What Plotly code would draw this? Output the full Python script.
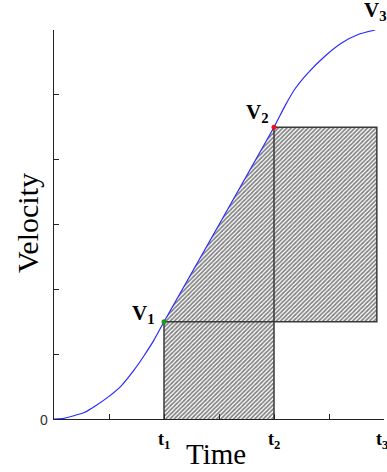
import plotly.graph_objects as go

# Curve samples (time, velocity)
curve_t = [0.0, 0.18, 0.36, 0.55, 0.73, 0.97, 1.21, 1.45, 1.64, 1.82, 2.0,
           4.0, 4.2, 4.38, 4.62, 4.93, 5.23, 5.53, 5.84]
curve_v = [0.0, 0.01, 0.05, 0.10, 0.19, 0.33, 0.50, 0.75, 0.98, 1.22, 1.5,
           4.5, 4.83, 5.09, 5.34, 5.6, 5.80, 5.93, 6.0]

t_ticks = [1, 2, 3, 4, 5, 6]
v_ticks = [0, 1, 2, 3, 4, 5]
t_labels = ["t<sub>1</sub>", "t<sub>2</sub>", "t<sub>3</sub>"]
v_labels = ["V<sub>1</sub>", "V<sub>2</sub>", "V<sub>3</sub>"]

t1, t2, t_end = 2.0, 4.0, 5.87
v1, v2 = 1.5, 4.5

fig = go.Figure()

hatch = dict(shape="/", size=3, solidity=0.55, fgcolor="#000000", bgcolor="white")

fig.add_trace(go.Scatter(x=[t1, t2, t2, t1, t1], y=[0, 0, v2, v1, 0], mode="lines",
                         fill="toself", fillcolor="white", fillpattern=hatch,
                         line=dict(width=0), hoverinfo="skip", showlegend=False))
fig.add_trace(go.Scatter(x=[t2, t_end, t_end, t2, t2], y=[v1, v1, v2, v2, v1], mode="lines",
                         fill="toself", fillcolor="white", fillpattern=hatch,
                         line=dict(width=0), hoverinfo="skip", showlegend=False))
fig.add_trace(go.Scatter(x=[t1, t1, t_end, t_end, t2, t2], y=[0, v1, v1, v2, v2, 0], mode="lines",
                         line=dict(color="#3a3a3a", width=1.5), hoverinfo="skip", showlegend=False))
fig.add_trace(go.Scatter(x=curve_t, y=curve_v, mode="lines", line_shape="spline",
                         line=dict(color="#2a2aff", width=1.2, smoothing=0.5),
                         hoverinfo="skip", showlegend=False))
fig.add_trace(go.Scatter(x=[t1], y=[v1], mode="markers", marker=dict(color="#1a9a1a", size=5),
                         hoverinfo="skip", showlegend=False))
fig.add_trace(go.Scatter(x=[t2], y=[v2], mode="markers", marker=dict(color="#ee1111", size=5),
                         hoverinfo="skip", showlegend=False))

# body margin is removed by a post script, so figure fills the window
W, H = 387, 472
PL, PR, PT, PB = 54, 384, 30, 419  # plot area in window pixels
L, T, R, B = PL, PT, W - PR, H - PB

def px(x, y):
    return (x - PL) / (PR - PL), (PB - y) / (PB - PT)

serif = "Liberation Serif, Times New Roman, serif"
ann = []
for (cx, cy), lab in zip([(164, 441), (274, 441), (382, 441)], t_labels):
    x, y = px(cx, cy)
    ann.append(dict(x=x, y=y, text="<b>" + lab + "</b>", font=dict(family=serif, size=18, color="black"),
                    xanchor="center", yanchor="middle"))
for (cx, cy), lab in zip([(143, 314), (257, 113), (375, 11)], v_labels):
    x, y = px(cx, cy)
    ann.append(dict(x=x, y=y, text="<b>" + lab + "</b>", font=dict(family=serif, size=21, color="black"),
                    xanchor="center", yanchor="middle"))
x, y = px(44, 420)
ann.append(dict(x=x, y=y, text="0", font=dict(family="Liberation Sans, Arial, sans-serif", size=14, color="#333333"),
                xanchor="center", yanchor="middle"))
x, y = px(216, 454)
ann.append(dict(x=x, y=y, text="Time", font=dict(family=serif, size=29, color="black"),
                xanchor="center", yanchor="middle"))
x, y = px(27, 223)
ann.append(dict(x=x, y=y, text="Velocity", textangle=-90, font=dict(family=serif, size=30, color="black"),
                xanchor="center", yanchor="middle"))
for a in ann:
    a.update(xref="paper", yref="paper", showarrow=False, borderpad=0)

fig.update_layout(
    width=W, height=H, margin=dict(l=L, r=R, t=T, b=B, autoexpand=False),
    plot_bgcolor="white", paper_bgcolor="white",
    annotations=ann,
    xaxis=dict(range=[0, 6], showgrid=False, zeroline=False, showline=True, linecolor="#222222",
               linewidth=1.2, ticks="inside", ticklen=5, tickcolor="#222222", tickvals=t_ticks,
               showticklabels=False, fixedrange=True),
    yaxis=dict(range=[0, 6], showgrid=False, zeroline=False, showline=True, linecolor="#222222",
               linewidth=1.2, ticks="inside", ticklen=5, tickcolor="#222222", tickvals=v_ticks,
               showticklabels=False, fixedrange=True),
)

fig.write_html("out.html", config={"displayModeBar": False, "staticPlot": True},
               post_script="document.body.style.margin='0px';document.body.style.overflow='hidden';")
